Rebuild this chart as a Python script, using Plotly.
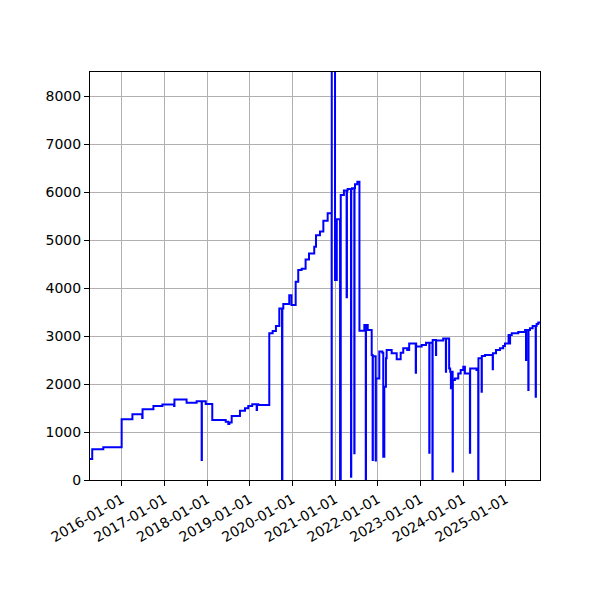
import plotly.graph_objects as go

# step series, value holds until next date
dates = [
    "2015-04-04", "2015-04-23", "2015-07-27", "2015-12-31", "2016-04-01",
    "2016-06-24", "2016-06-27", "2016-09-28", "2016-12-14", "2017-03-24",
    "2017-03-27", "2017-07-09", "2017-10-03", "2017-11-15", "2017-11-17",
    "2017-12-20", "2018-02-14", "2018-06-09", "2018-07-01", "2018-07-10",
    "2018-07-30", "2018-10-09", "2018-11-21", "2018-12-19", "2019-01-22",
    "2019-03-01", "2019-03-04", "2019-03-15", "2019-06-17", "2019-07-16",
    "2019-08-13", "2019-09-11", "2019-10-04", "2019-10-07", "2019-10-15",
    "2019-12-05", "2019-12-24", "2020-01-29", "2020-02-20", "2020-03-20",
    "2020-04-23", "2020-05-22", "2020-07-06", "2020-07-21", "2020-08-24",
    "2020-09-22", "2020-10-29", "2020-12-02", "2020-12-03", "2020-12-31",
    "2021-01-15", "2021-02-12", "2021-02-18", "2021-03-17", "2021-04-09",
    "2021-04-12", "2021-04-18", "2021-05-17", "2021-05-19", "2021-05-25",
    "2021-06-14", "2021-06-16", "2021-06-20", "2021-07-10", "2021-07-28",
    "2021-09-08", "2021-09-20", "2021-09-22", "2021-10-07", "2021-11-10",
    "2021-11-18", "2021-11-20", "2021-12-14", "2021-12-16", "2022-01-14",
    "2022-02-09", "2022-02-17", "2022-02-26", "2022-03-12", "2022-03-18",
    "2022-04-30", "2022-06-12", "2022-07-16", "2022-08-07", "2022-09-10",
    "2022-09-27", "2022-11-22", "2022-11-24", "2022-11-26", "2023-01-12",
    "2023-02-18", "2023-03-18", "2023-03-20", "2023-04-14", "2023-04-16",
    "2023-05-14", "2023-05-16", "2023-07-15", "2023-08-07", "2023-08-09",
    "2023-09-04", "2023-09-13", "2023-09-19", "2023-09-21", "2023-10-04",
    "2023-10-06", "2023-10-23", "2023-11-21", "2023-12-12", "2024-01-03",
    "2024-01-17", "2024-02-29", "2024-03-02", "2024-04-25", "2024-05-10",
    "2024-05-12", "2024-06-08", "2024-06-10", "2024-07-07", "2024-09-11",
    "2024-09-13", "2024-10-09", "2024-11-12", "2024-12-10", "2024-12-25",
    "2025-01-25", "2025-02-05", "2025-02-07", "2025-02-21", "2025-04-18",
    "2025-06-15", "2025-06-23", "2025-06-25", "2025-07-13", "2025-07-15",
    "2025-07-27", "2025-08-19", "2025-09-14", "2025-09-16", "2025-09-22",
    "2025-10-06", "2025-10-21",
]
values = [
    440, 640, 680, 1265, 1370,
    1290, 1475, 1540, 1575, 1540,
    1675, 1610, 1640, 415, 1640,
    1585, 1250, 1215, 1165, 1200,
    1335, 1445, 1495, 1540, 1580,
    1460, 1580, 1560, 3055, 3105,
    3210, 3575, 0, 3575, 3665,
    3850, 3645, 4130, 4375, 4400,
    4595, 4720, 4860, 5100, 5175,
    5400, 5555, 0, 9500, 4165,
    5430, 0, 5940, 6030, 3805,
    6030, 6060, 70, 6060, 6080,
    555, 6080, 6160, 6215, 3110,
    3230, 0, 3230, 3125, 2605,
    415, 2580, 405, 2115, 2675,
    2650, 485, 1945, 2535, 2710,
    2640, 2515, 2650, 2745, 2710,
    2845, 2235, 2845, 2780, 2810,
    2860, 570, 2860, 0, 2915,
    2605, 2905, 2950, 2255, 2950,
    2325, 2255, 1910, 2255, 175,
    2085, 2115, 2220, 2290, 2360,
    2220, 570, 2325, 2290, 0,
    2535, 1840, 2585, 2605, 2305,
    2640, 2710, 2745, 2790, 2845,
    3020, 2845, 3020, 3055, 3085,
    3125, 2500, 3125, 1875, 3125,
    3160, 3210, 1735, 3210, 3250,
    3280, 3280,
]

fig = go.Figure(go.Scatter(x=dates, y=values, mode="lines", line_shape="hv",
                           line=dict(color="#0000ff", width=2)))

fig.update_layout(
    width=600, height=600,
    margin=dict(l=82, r=68, t=64, b=128),
    paper_bgcolor="white", plot_bgcolor="white",
    font=dict(family="DejaVu Sans", size=14, color="black"),
    showlegend=False,
)
fig.update_xaxes(
    range=[dates[0], dates[-1]], tickformat="%Y-%m-%d", dtick="M12", tick0="2016-01-01",
    tickangle=-30, showgrid=True, gridcolor="#b0b0b0", gridwidth=1,
    showline=True, linecolor="black", linewidth=1, mirror=True,
    ticks="outside", ticklen=5, tickcolor="black",
)
fig.update_yaxes(
    range=[0, 8500], dtick=1000, showgrid=True, gridcolor="#b0b0b0", gridwidth=1,
    showline=True, linecolor="black", linewidth=1, mirror=True,
    ticks="outside", ticklen=5, tickcolor="black", zeroline=False,
)

fig.write_html("out.html")
